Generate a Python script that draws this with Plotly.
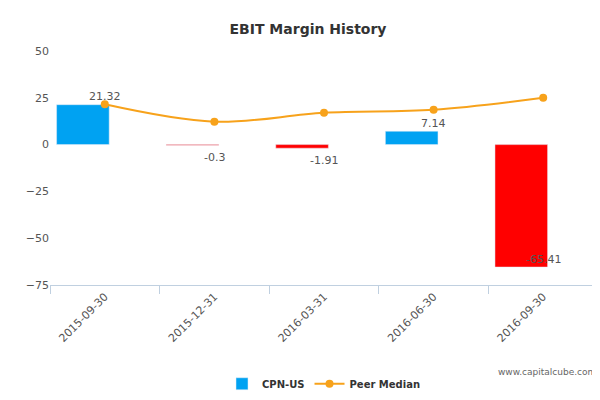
import plotly.graph_objects as go

dates = ["2015-09-30", "2015-12-31", "2016-03-31", "2016-06-30", "2016-09-30"]
ebit = [21.32, -0.3, -1.91, 7.14, -65.41]
peer = [21.5, 12.2, 17.0, 18.6, 25.0]

colors = ["#00a2f2" if v >= 0 else "#ff0000" for v in ebit]

fig = go.Figure()
fig.add_trace(go.Bar(x=dates, y=ebit, name="CPN-US", marker_color=colors,
                     width=0.48, showlegend=False))
fig.add_trace(go.Bar(x=[dates[0]], y=[None], name="CPN-US", marker_color="#00a2f2"))
fig.add_trace(go.Scatter(x=dates, y=peer, name="Peer Median", mode="lines+markers",
                         line=dict(color="#f7a21b", width=2, shape="spline"),
                         marker=dict(size=8, color="#f7a21b")))

for d, v in zip(dates, ebit):
    if v > 0:
        y, yshift = v, 8
    elif v > -10:
        y, yshift = v, -12
    else:
        y, yshift = v, 8
    fig.add_annotation(x=d, y=y, text=str(v), showarrow=False, yshift=yshift,
                       font=dict(size=11, color="#555"))

fig.add_annotation(text="www.capitalcube.com", xref="paper", yref="paper",
                   x=1.0, y=-0.4, xanchor="right", showarrow=False,
                   font=dict(size=9, color="#666"))

fig.update_layout(
    width=600, height=400,
    title=dict(text="<b>EBIT Margin History</b>", x=0.5, y=0.96,
               font=dict(size=14, color="#333")),
    font=dict(family="DejaVu Sans", size=11, color="#555"),
    plot_bgcolor="white", paper_bgcolor="white",
    margin=dict(l=42, r=10, t=43, b=112),
    legend=dict(orientation="h", x=0.5, xanchor="center", y=-0.36, yanchor="top",
                font=dict(size=10, color="#333", weight="bold")),
    xaxis=dict(type="category", tickangle=-45, showline=True, linecolor="#c0d0e0",
               ticks="outside", tickcolor="#c0d0e0", ticklen=8,
               tickson="boundaries", showgrid=False),
    yaxis=dict(range=[-75, 50], tickvals=[-75, -50, -25, 0, 25, 50],
               showgrid=False, zeroline=False, showline=False),
)
fig.write_html("out.html")
